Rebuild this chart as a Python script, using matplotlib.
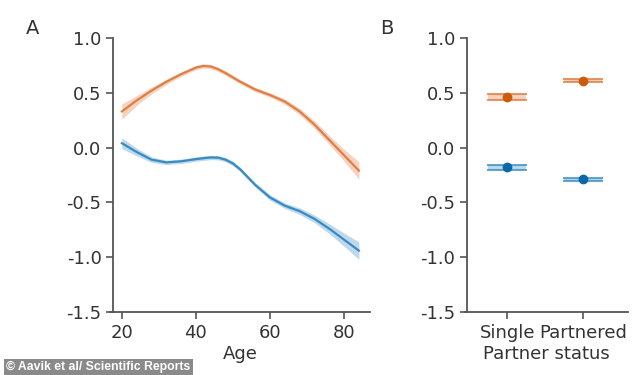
import matplotlib
matplotlib.use("Agg")
import matplotlib.pyplot as plt
import numpy as np

# ---- data ----
ages = [20, 24, 28, 32, 36, 40, 42, 44, 46, 48, 50, 52, 54, 56, 60, 64, 68, 72, 76, 80, 84]
orange_mean = [0.33, 0.43, 0.52, 0.60, 0.67, 0.73, 0.745, 0.74, 0.715, 0.68, 0.64, 0.60, 0.565, 0.53, 0.48, 0.42, 0.33, 0.21, 0.07, -0.07, -0.21]
orange_ci = [0.07, 0.045, 0.03, 0.025, 0.02, 0.02, 0.02, 0.02, 0.02, 0.02, 0.02, 0.02, 0.02, 0.02, 0.02, 0.025, 0.03, 0.035, 0.04, 0.055, 0.08]
blue_mean = [0.04, -0.04, -0.11, -0.135, -0.125, -0.105, -0.097, -0.09, -0.092, -0.11, -0.145, -0.2, -0.27, -0.34, -0.455, -0.53, -0.58, -0.65, -0.74, -0.84, -0.94]
blue_ci = [0.05, 0.035, 0.025, 0.02, 0.02, 0.02, 0.02, 0.02, 0.02, 0.02, 0.02, 0.02, 0.02, 0.02, 0.025, 0.025, 0.03, 0.035, 0.045, 0.06, 0.08]

status = ["Single", "Partnered"]
orange_status = [0.46, 0.61]
orange_status_lo = [0.43, 0.595]
orange_status_hi = [0.49, 0.625]
blue_status = [-0.18, -0.29]
blue_status_lo = [-0.205, -0.305]
blue_status_hi = [-0.155, -0.275]

yticks = [1.0, 0.5, 0.0, -0.5, -1.0, -1.5]
xticks_age = [20, 40, 60, 80]

ORANGE = "#DB7030"
BLUE = "#2A82BE"
ORANGE_DOT = "#CC5A0C"
BLUE_DOT = "#0A68A6"
SPINE = "#555555"
TXT = "#333333"
FS = 13

fig = plt.figure(figsize=(6.34, 3.75), dpi=100)
axA = fig.add_axes([110/634, 63/375, 260/634, 274/375])
axB = fig.add_axes([465/634, 63/375, 163/634, 274/375])

def style(ax):
    for s in ["top", "right"]:
        ax.spines[s].set_visible(False)
    for s in ["left", "bottom"]:
        ax.spines[s].set_color(SPINE)
        ax.spines[s].set_linewidth(1.3)
    ax.tick_params(colors=SPINE, labelcolor=TXT, labelsize=FS, width=1.2, length=5)
    ax.set_ylim(-1.5, 1.0)
    ax.set_yticks(yticks)
    ax.set_yticklabels([f"{v:.1f}" for v in yticks])

# Panel A
a = np.array(ages)
om, oc = np.array(orange_mean), np.array(orange_ci)
bm, bc = np.array(blue_mean), np.array(blue_ci)
axA.fill_between(a, om - oc, om + oc, color=ORANGE, alpha=0.3, lw=0)
axA.plot(a, om, color=ORANGE, lw=1.6, alpha=0.85)
axA.fill_between(a, bm - bc, bm + bc, color=BLUE, alpha=0.3, lw=0)
axA.plot(a, bm, color=BLUE, lw=1.6, alpha=0.9)
axA.set_xlim(16.8, 87)
axA.set_xticks(xticks_age)
style(axA)
axA.spines["left"].set_position(("axes", 0.013))
axA.set_xlabel("Age", fontsize=FS, color=TXT, labelpad=2)

# Panel B
xs = np.arange(len(status))
hw = 0.25
for mean, lo, hi, c, cd in [(orange_status, orange_status_lo, orange_status_hi, ORANGE, ORANGE_DOT),
                            (blue_status, blue_status_lo, blue_status_hi, BLUE, BLUE_DOT)]:
    for x, m, l, h in zip(xs, mean, lo, hi):
        axB.fill_between([x - hw, x + hw], [l, l], [h, h], color=c, alpha=0.3, lw=0)
        axB.plot([x - hw, x + hw], [l, l], color=c, lw=1.5, alpha=0.7)
        axB.plot([x - hw, x + hw], [h, h], color=c, lw=1.5, alpha=0.7)
        axB.plot([x], [m], "o", color=cd, ms=6)
axB.set_xlim(-0.56, 1.6)
axB.set_xticks(xs)
axB.set_xticklabels(status)
style(axB)
axB.spines["left"].set_position(("axes", 0.012))
axB.set_xlabel("Partner status", fontsize=FS, color=TXT, labelpad=2)

fig.text(33/634, 1 - 28/375, "A", fontsize=14, color=TXT, ha="center", va="center")
fig.text(387/634, 1 - 28/375, "B", fontsize=14, color=TXT, ha="center", va="center")

fig.text(6/634, 1 - 367/375, "\u00a9 Aavik et al/ Scientific Reports", fontsize=8.8,
         family="Liberation Sans", weight="bold", color="white", ha="left", va="center",
         bbox=dict(boxstyle="square,pad=0.2", fc="#8a8a8a", ec="none"))

fig.savefig("out.png", dpi=100)
